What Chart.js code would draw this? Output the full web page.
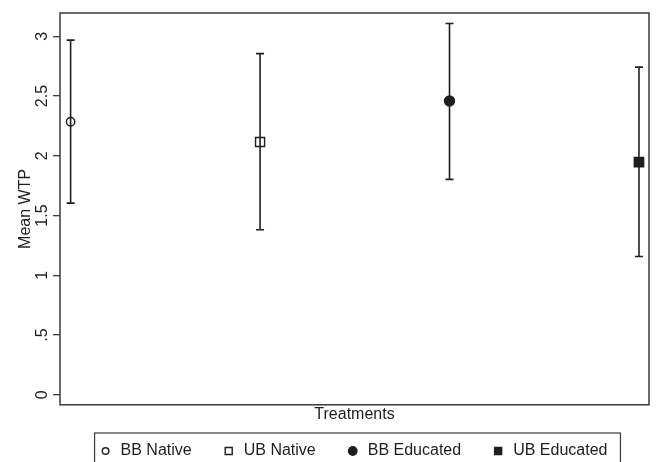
<!DOCTYPE html>
<html>
<head>
<meta charset="utf-8">
<script src="https://cdn.jsdelivr.net/npm/chart.js@4/dist/chart.umd.min.js"></script>
<style>
  body { margin: 0; background: #fff; }
  #wrap { width: 657px; height: 462px; position: relative; }
</style>
</head>
<body>
<div id="wrap"><canvas id="wtpChart"></canvas></div>
<script>
// values
var treatments = ["BB Native", "UB Native", "BB Educated", "UB Educated"];
var treatmentPos = [1, 2, 3, 4];
var meanWTP = [2.285, 2.115, 2.458, 1.947];
var ciLower = [1.604, 1.381, 1.803, 1.157];
var ciUpper = [2.968, 2.855, 3.107, 2.742];
var yTicks = [0, 0.5, 1, 1.5, 2, 2.5, 3];
var yTickLabels = ["0", ".5", "1", "1.5", "2", "2.5", "3"];

// marker look per treatment
var markerShape = ["circle", "rect", "circle", "rect"];
var markerFilled = [false, false, true, true];
var markerSize = [4.2, 6.4, 5, 6.6];

var ink = "#1e1e1e";
var fontFamily = "'Liberation Sans', Arial, sans-serif";

var datasets = [];
treatments.forEach(function (name, i) {
    datasets.push({
        label: name,
        order: 0,
        data: [{ x: treatmentPos[i], y: meanWTP[i] }],
        pointStyle: markerShape[i],
        pointRadius: markerSize[i],
        pointHoverRadius: markerSize[i],
        pointBorderWidth: 1.4,
        borderColor: ink,
        backgroundColor: markerFilled[i] ? ink : "rgba(0,0,0,0)",
        showLine: false
    });
});
treatments.forEach(function (name, i) {
    datasets.push({
        label: name + " CI",
        order: 1,
        data: [{ x: treatmentPos[i], y: ciLower[i] }, { x: treatmentPos[i], y: ciUpper[i] }],
        showLine: true,
        borderColor: ink,
        borderWidth: 1.6,
        pointStyle: "line",
        pointRadius: 4,
        pointHoverRadius: 4,
        pointBorderWidth: 1.6,
        pointBorderColor: ink
    });
});

var framePlugin = {
    id: "frame",
    beforeDatasetsDraw: function (chart) {
        var a = chart.chartArea, ctx = chart.ctx;
        ctx.save();
        ctx.strokeStyle = "#3a3a3a";
        ctx.lineWidth = 1.5;
        ctx.strokeRect(a.left, a.top, a.right - a.left, a.bottom - a.top);
        ctx.restore();
    }
};

// Stata style legend in a box under the axis title
var legendBox = {
    id: "legendBox",
    afterDraw: function (chart) {
        var ctx = chart.ctx, a = chart.chartArea;
        ctx.save();
        ctx.font = "16px " + fontFamily;
        ctx.textBaseline = "middle";
        var gap = 33, textOff = 15;
        var widths = treatments.map(function (t) { return ctx.measureText(t).width; });
        var total = 0;
        widths.forEach(function (w) { total += 4 + textOff + w; });
        total += gap * (treatments.length - 1);
        var mid = (a.left + a.right) / 2;
        var x = mid - total / 2;
        var y = 451;
        ctx.strokeStyle = "#3a3a3a";
        ctx.lineWidth = 1.2;
        ctx.strokeRect(x - 7, 433, total + 20, 40);
        treatments.forEach(function (t, i) {
            var cx = x + 4;
            ctx.fillStyle = ink;
            ctx.strokeStyle = ink;
            ctx.lineWidth = 1.4;
            ctx.beginPath();
            if (markerShape[i] === "rect") {
                ctx.rect(cx - 3.5, y - 3.5, 7, 7);
            } else {
                ctx.arc(cx, y, markerFilled[i] ? 4.2 : 3.3, 0, Math.PI * 2);
            }
            if (markerFilled[i]) ctx.fill();
            ctx.stroke();
            ctx.textAlign = "left";
            ctx.fillText(t, cx + textOff, y);
            x += 4 + textOff + widths[i] + gap;
        });
        ctx.restore();
    }
};

var ctx = document.getElementById("wtpChart").getContext("2d");
new Chart(ctx, {
    type: "scatter",
    data: { datasets: datasets },
    options: {
        responsive: true,
        maintainAspectRatio: false,
        animation: false,
        layout: { padding: { top: 13, right: 5, bottom: 38, left: 0 } },
        plugins: {
            legend: { display: false },
            tooltip: { enabled: false }
        },
        scales: {
            x: {
                type: "linear",
                min: 0.944,
                max: 4.053,
                grid: { display: false },
                border: { display: false },
                ticks: { display: false },
                title: {
                    display: true,
                    text: "Treatments",
                    color: ink,
                    font: { family: fontFamily, size: 16 },
                    padding: { top: 0, bottom: 0 }
                },
                afterFit: function (scale) { scale.height = 19.2; }
            },
            y: {
                min: -0.084,
                max: 3.195,
                afterBuildTicks: function (scale) {
                    scale.ticks = yTicks.map(function (v) { return { value: v }; });
                },
                grid: {
                    drawOnChartArea: false,
                    drawTicks: true,
                    tickLength: 7,
                    color: "#3a3a3a",
                    lineWidth: 1.3
                },
                border: { display: false },
                ticks: {
                    minRotation: 90,
                    maxRotation: 90,
                    crossAlign: "center",
                    padding: -1,
                    color: ink,
                    font: { family: fontFamily, size: 16 },
                    callback: function (value) {
                        var k = yTicks.indexOf(value);
                        return k >= 0 ? yTickLabels[k] : "";
                    }
                },
                title: {
                    display: true,
                    text: "Mean WTP",
                    color: ink,
                    font: { family: fontFamily, size: 16 },
                    padding: { top: 16, bottom: 0 }
                },
                afterFit: function (scale) { scale.width = 60; }
            }
        }
    },
    plugins: [framePlugin, legendBox]
});
</script>
</body>
</html>
